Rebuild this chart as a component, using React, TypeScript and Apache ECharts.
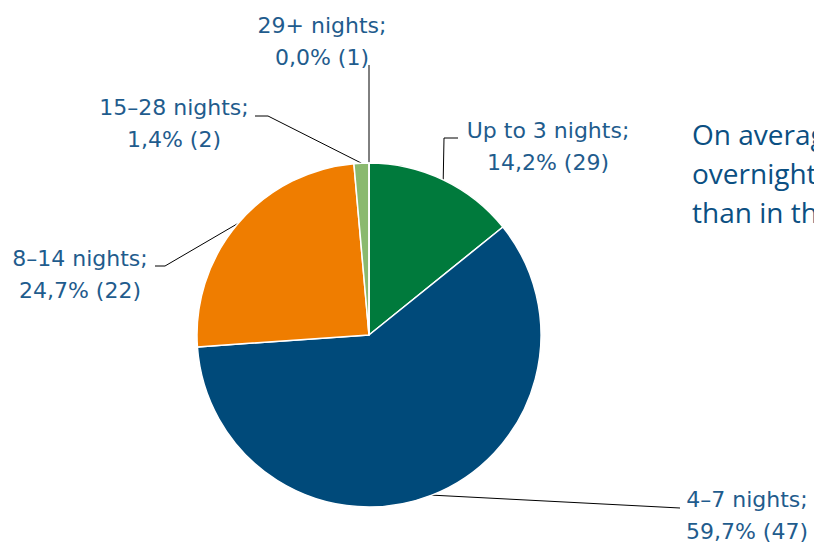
import React, { useEffect, useRef } from "react";
import * as echarts from "echarts";

const categories = ["Up to 3 nights", "4–7 nights", "8–14 nights", "15–28 nights", "29+ nights"];
const shares = [14.2, 59.7, 24.7, 1.4, 0.0];
const counts = [29, 47, 22, 2, 1];
const colors = ["#007a3c", "#004a7a", "#ef7d00", "#8ab96e", "#c5dcb5"];

// label layout (positions only)
const labelCenters = [
  [548, 146],
  [747, 515],
  [80, 274],
  [174, 123],
  [322, 41],
];
const labelBends = [
  [[444, 138], [458, 138]],
  [[680, 508], [680, 508]],
  [[165, 266], [155, 266]],
  [[268, 116], [255, 116]],
  [[369, 65], [369, 65]],
];

const CX = 369;
const CY = 335;
const R = 172;
const TEXT = "#1f5c8d";

export default function App() {
  const ref = useRef<HTMLDivElement>(null);
  useEffect(() => {
    const chart = echarts.init(ref.current!, null, { renderer: "svg" });
    const total = shares.reduce((a, b) => a + b, 0);
    const cum: number[] = [];
    let acc = 0;
    shares.forEach((v) => {
      cum.push(acc + v / 2);
      acc += v;
    });
    chart.setOption({
      animation: false,
      backgroundColor: "#ffffff",
      series: [
        {
          type: "pie",
          center: [CX, CY],
          radius: R,
          startAngle: 90,
          clockwise: true,
          avoidLabelOverlap: false,
          data: categories.map((c, i) => ({
            name: c,
            value: shares[i],
            itemStyle: { color: colors[i] },
          })),
          itemStyle: { borderColor: "#ffffff", borderWidth: 1.5 },
          label: {
            show: true,
            position: "outside",
            color: TEXT,
            fontFamily: "DejaVu Sans",
            fontSize: 22,
            lineHeight: 32,
            align: "center",
            formatter: (p: any) =>
              `${p.name};\n${shares[p.dataIndex].toFixed(1).replace(".", ",")}% (${counts[p.dataIndex]})`,
          },
          labelLine: {
            show: true,
            lineStyle: { color: "#000000", width: 1 },
          },
          labelLayout: (p: any) => {
            const i = p.dataIndex;
            const ang = ((90 - (360 * cum[i]) / total) * Math.PI) / 180;
            const start = [CX + R * Math.cos(ang), CY - R * Math.sin(ang)];
            return {
              x: labelCenters[i][0],
              y: labelCenters[i][1],
              align: "center",
              verticalAlign: "middle",
              labelLinePoints: [start, labelBends[i][0], labelBends[i][1]],
            };
          },
        },
      ],
      graphic: [
        {
          type: "text",
          left: 692,
          top: 114,
          style: {
            text: "On average,\novernight\nthan in the",
            fill: "#0b4f82",
            font: "28px 'Open Sans'",
            lineHeight: 39,
          },
        },
      ],
    });
    return () => chart.dispose();
  }, []);
  return (
    <div
      ref={ref}
      style={{ position: "fixed", left: 0, top: 0, width: 814, height: 544, overflow: "hidden" }}
    />
  );
}
